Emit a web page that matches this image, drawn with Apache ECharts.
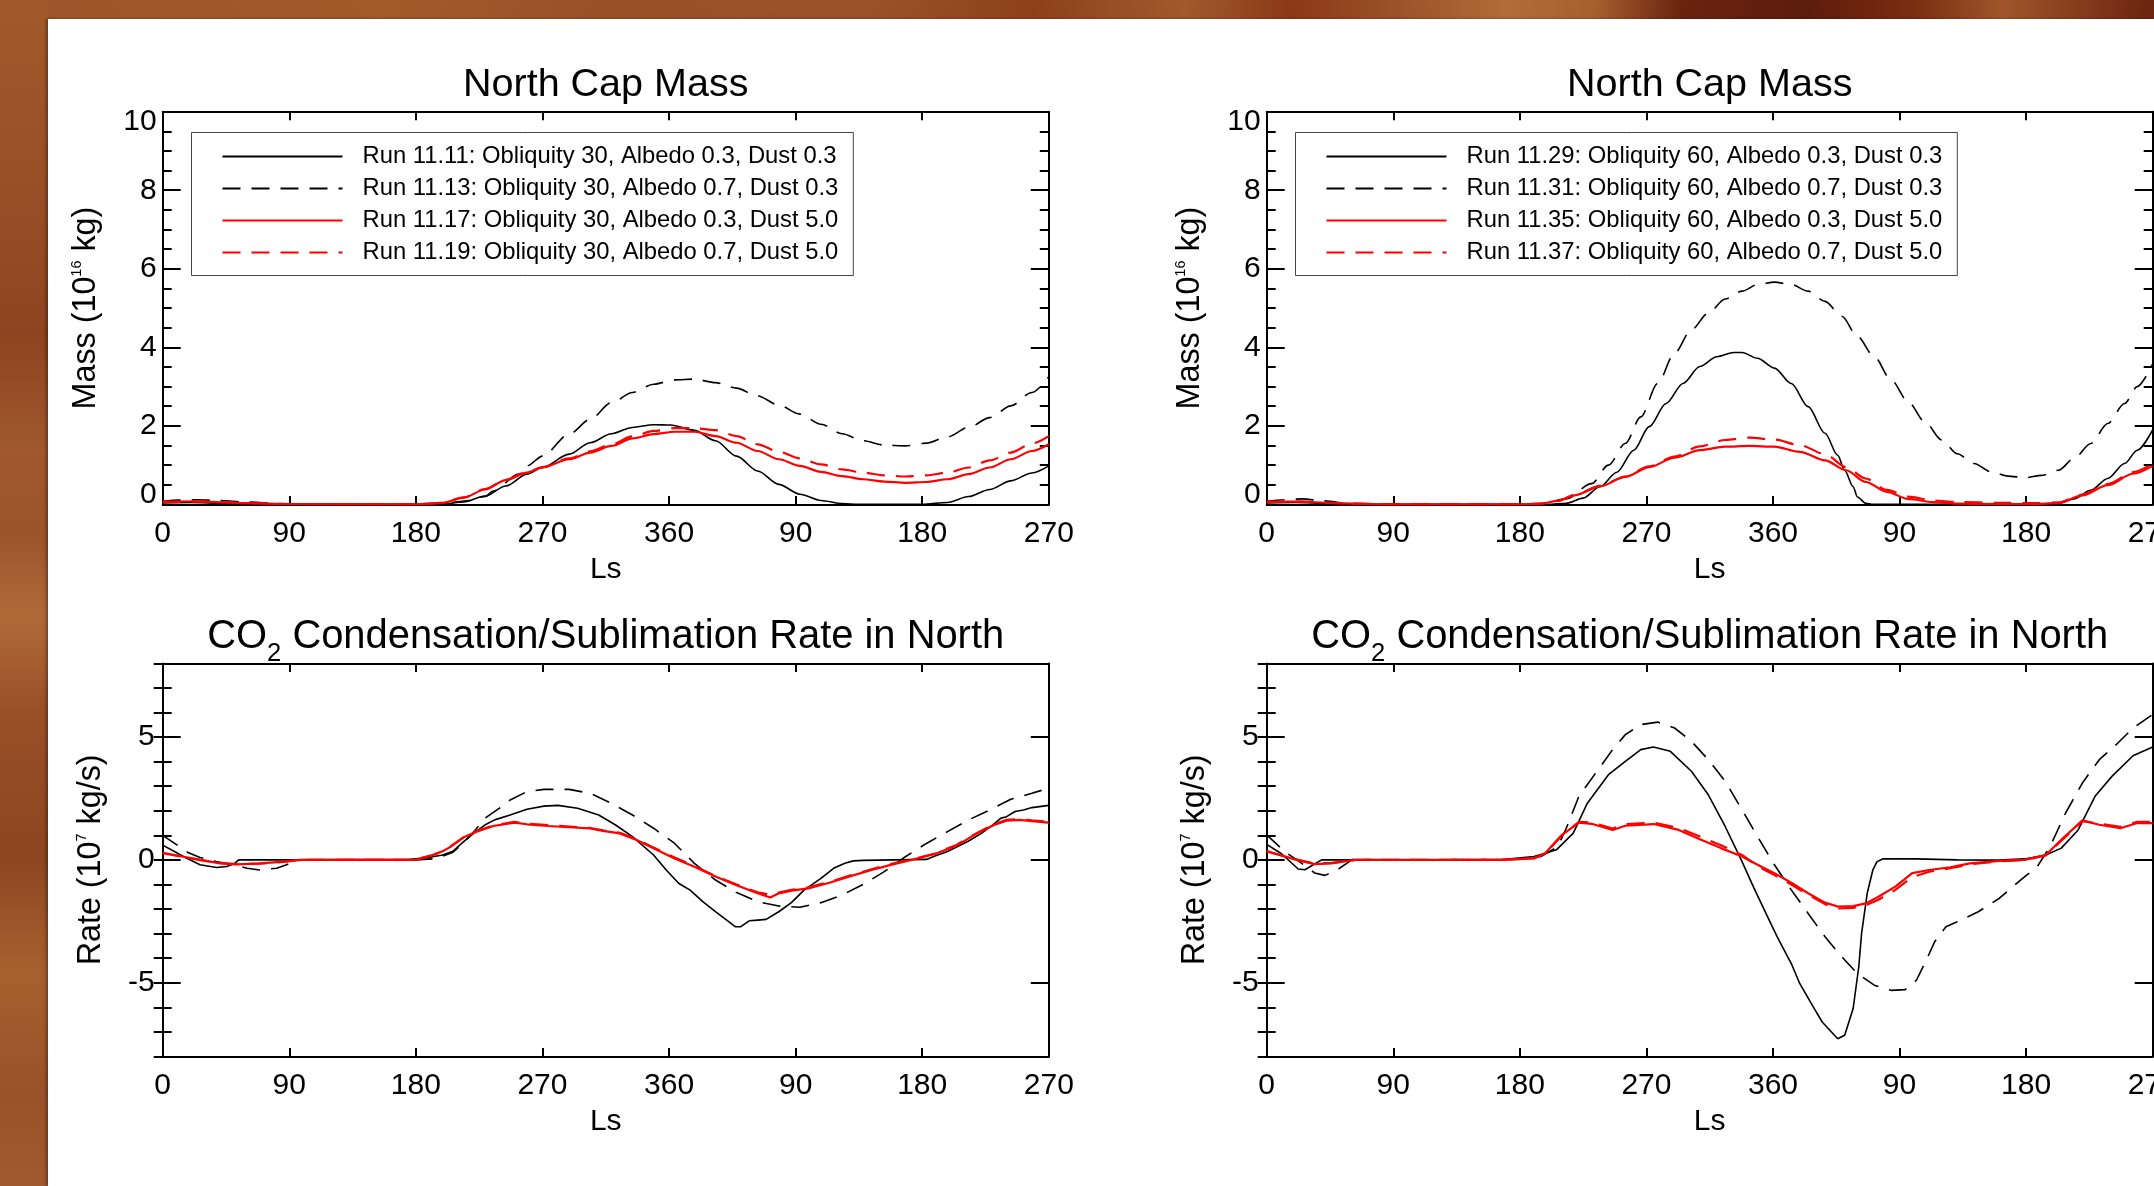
<!DOCTYPE html>
<html><head><meta charset="utf-8">
<script src="https://cdn.jsdelivr.net/npm/echarts@6/dist/echarts.min.js"></script>
<style>
html,body{margin:0;padding:0;width:2154px;height:1186px;overflow:hidden;background:#9c5327;}
#bgTop{position:absolute;left:0;top:0;width:2154px;height:19px;
 background:linear-gradient(90deg,#9d5428 0%,#a35b2c 18%,#9a5026 28%,#9c5228 40%,#8e4119 48%,#a2592b 55%,#8a3a16 60%,#b06c3a 70%,#a6602f 74%,#6a2410 78%,#5e1c0b 84%,#7c2e12 89%,#a0562a 93%,#6a2410 100%);}
#bgLeft{position:absolute;left:0;top:0;width:48px;height:1186px;
 background:linear-gradient(180deg,#a2592b 0%,#9a5026 15%,#8e4420 28%,#a0582c 38%,#9c5429 45%,#b06a3a 52%,#9a5026 60%,#8c4620 72%,#a6602f 82%,#9a5228 92%,#a05a2e 100%);}
#panel{position:absolute;left:48px;top:19px;width:2106px;height:1167px;background:#fff;box-shadow:-2px 0 3px rgba(0,0,0,0.35);}
#chart{position:absolute;left:0;top:0;width:2154px;height:1186px;}
</style></head>
<body>
<div id="bgTop"></div><div id="bgLeft"></div><div id="panel"></div><div id="chart"></div>
<script>
// ---------- tick labels ----------
const lsTickLabels = ['0', '90', '180', '270', '360', '90', '180', '270'];
const massTicks = [0, 2, 4, 6, 8, 10];
const rateTicks = [-5, 0, 5];

// ---------- legend / series names ----------
const namesObl30 = [
  'Run 11.11: Obliquity 30, Albedo 0.3, Dust 0.3',
  'Run 11.13: Obliquity 30, Albedo 0.7, Dust 0.3',
  'Run 11.17: Obliquity 30, Albedo 0.3, Dust 5.0',
  'Run 11.19: Obliquity 30, Albedo 0.7, Dust 5.0'
];
const namesObl60 = [
  'Run 11.29: Obliquity 60, Albedo 0.3, Dust 0.3',
  'Run 11.31: Obliquity 60, Albedo 0.7, Dust 0.3',
  'Run 11.35: Obliquity 60, Albedo 0.3, Dust 5.0',
  'Run 11.37: Obliquity 60, Albedo 0.7, Dust 5.0'
];

// ---------- North cap mass, obliquity 30 (10^16 kg) ----------
const massLs1111 = [0, 20, 45, 60, 90, 180, 199, 214, 229, 244, 259, 270, 289, 304, 319, 334, 349, 361, 378, 393, 408, 423, 438, 453, 468, 483, 495, 540, 558, 573, 588, 603, 618, 630];
const mass1111 = [0.04, 0.05, 0.03, 0.01, 0, 0, 0.01, 0.06, 0.21, 0.47, 0.77, 0.94, 1.28, 1.57, 1.80, 1.96, 2.03, 2.02, 1.89, 1.62, 1.23, 0.85, 0.51, 0.26, 0.10, 0.02, 0, 0, 0.05, 0.2, 0.38, 0.6, 0.8, 0.98];
const massLs1113 = [0, 12, 25, 40, 60, 90, 180, 199, 218, 229, 235, 253, 259, 270, 289, 304, 319, 334, 349, 364, 378, 393, 408, 423, 438, 453, 468, 483, 498, 513, 528, 543, 558, 573, 588, 603, 618, 630];
const mass1113 = [0.08, 0.11, 0.12, 0.1, 0.06, 0, 0, 0.02, 0.1, 0.2, 0.34, 0.77, 0.98, 1.23, 1.79, 2.17, 2.59, 2.85, 3.06, 3.17, 3.19, 3.10, 2.96, 2.76, 2.53, 2.30, 2.04, 1.80, 1.62, 1.51, 1.49, 1.56, 1.72, 1.96, 2.21, 2.51, 2.85, 3.25];
const massLs1117 = [0, 25, 45, 60, 90, 180, 199, 214, 229, 244, 259, 270, 289, 304, 319, 334, 349, 364, 378, 393, 408, 423, 438, 453, 468, 483, 498, 513, 528, 543, 558, 573, 588, 603, 618, 630];
const mass1117 = [0.07, 0.08, 0.05, 0.03, 0.01, 0, 0.04, 0.17, 0.38, 0.62, 0.81, 0.94, 1.15, 1.32, 1.49, 1.68, 1.79, 1.85, 1.85, 1.74, 1.57, 1.36, 1.15, 0.98, 0.83, 0.72, 0.64, 0.58, 0.55, 0.57, 0.64, 0.77, 0.94, 1.15, 1.36, 1.53];
const massLs1119 = massLs1117;
const mass1119 = [0.06, 0.07, 0.05, 0.03, 0.01, 0, 0.04, 0.18, 0.39, 0.63, 0.82, 0.95, 1.17, 1.35, 1.53, 1.73, 1.87, 1.94, 1.94, 1.89, 1.74, 1.53, 1.34, 1.17, 1.02, 0.89, 0.81, 0.74, 0.71, 0.74, 0.81, 0.94, 1.12, 1.32, 1.55, 1.74];

// ---------- North cap mass, obliquity 60 (10^16 kg) ----------
const massLs1129 = [0, 20, 45, 60, 90, 180, 200, 213, 225, 237, 249, 261, 272, 284, 296, 308, 320, 332, 338, 349, 361, 373, 385, 397, 406, 411, 417, 420, 426, 431, 540, 551, 563, 574, 586, 598, 610, 619, 630];
const mass1129 = [0.04, 0.05, 0.03, 0.01, 0, 0, 0, 0.03, 0.16, 0.45, 0.82, 1.38, 1.98, 2.57, 3.08, 3.51, 3.76, 3.87, 3.87, 3.72, 3.47, 3.08, 2.49, 1.81, 1.25, 0.87, 0.45, 0.19, 0.03, 0, 0, 0.01, 0.03, 0.14, 0.36, 0.66, 1.04, 1.38, 1.9];
const massLs1131 = [0, 12, 25, 40, 60, 90, 180, 195, 213, 231, 243, 255, 266, 278, 290, 302, 314, 326, 338, 349, 361, 373, 385, 397, 409, 420, 432, 444, 456, 468, 480, 491, 503, 515, 527, 539, 551, 563, 574, 586, 598, 610, 619, 630];
const mass1131 = [0.08, 0.12, 0.14, 0.09, 0.02, 0, 0, 0.01, 0.14, 0.53, 1.0, 1.55, 2.23, 3.08, 3.85, 4.45, 4.87, 5.23, 5.43, 5.60, 5.66, 5.60, 5.43, 5.17, 4.79, 4.28, 3.76, 3.17, 2.62, 2.10, 1.64, 1.29, 1.04, 0.83, 0.72, 0.68, 0.74, 0.87, 1.17, 1.55, 2.06, 2.57, 3.0, 3.58];
const massLs1135 = [0, 25, 45, 60, 90, 180, 195, 207, 219, 237, 255, 272, 290, 308, 326, 343, 361, 379, 397, 412, 426, 441, 456, 474, 491, 520, 545, 563, 580, 598, 616, 630];
const mass1135 = [0.07, 0.07, 0.04, 0.02, 0, 0, 0.02, 0.09, 0.23, 0.46, 0.70, 0.95, 1.19, 1.38, 1.47, 1.49, 1.47, 1.34, 1.12, 0.87, 0.57, 0.32, 0.14, 0.06, 0.02, 0.01, 0.01, 0.03, 0.23, 0.49, 0.78, 0.98];
const massLs1137 = massLs1135;
const mass1137 = [0.06, 0.07, 0.04, 0.02, 0, 0, 0.02, 0.09, 0.24, 0.47, 0.71, 0.97, 1.22, 1.48, 1.64, 1.70, 1.65, 1.51, 1.28, 0.95, 0.66, 0.37, 0.20, 0.10, 0.06, 0.04, 0.03, 0.05, 0.25, 0.52, 0.82, 1.04];

// ---------- CO2 rate, obliquity 30 (10^7 kg/s) ----------
const rateLs1111 = [0, 8, 15, 26.5, 38.4, 45.5, 51, 54, 90, 176, 188, 199, 206, 214, 221, 229, 236, 247, 259, 271, 281, 295, 310, 322, 334, 349, 358, 367, 375, 384, 393, 401, 407, 411, 417, 423, 429, 438, 447, 456, 468, 477, 485, 491, 498, 543, 549, 558, 573, 582, 590, 596, 600, 606, 612, 618, 630];
const rate1111 = [0.6, 0.35, 0.13, -0.2, -0.31, -0.27, -0.15, 0, 0, 0.02, 0.09, 0.2, 0.34, 0.74, 1.08, 1.42, 1.63, 1.83, 2.06, 2.19, 2.22, 2.10, 1.83, 1.42, 0.95, 0.20, -0.41, -0.96, -1.23, -1.70, -2.11, -2.45, -2.72, -2.72, -2.48, -2.45, -2.42, -2.11, -1.74, -1.23, -0.75, -0.34, -0.14, -0.04, -0.02, 0.02, 0.16, 0.34, 0.77, 1.08, 1.42, 1.70, 1.76, 1.97, 2.03, 2.13, 2.22];
const rateLs1113 = [0, 9, 18, 26.5, 38, 50, 60, 69, 81, 88, 95, 100, 180, 194, 206, 214, 222, 229, 241, 247, 259, 271, 289, 304, 319, 334, 349, 364, 378, 393, 408, 423, 438, 453, 468, 483, 498, 513, 528, 543, 558, 573, 588, 603, 618, 630];
const rate1113 = [1.0, 0.65, 0.3, 0.1, -0.07, -0.2, -0.34, -0.41, -0.34, -0.2, -0.03, 0, 0, 0.05, 0.3, 0.7, 1.2, 1.69, 2.17, 2.44, 2.78, 2.87, 2.87, 2.71, 2.30, 1.83, 1.29, 0.67, -0.14, -0.82, -1.33, -1.70, -1.88, -1.93, -1.74, -1.43, -1.00, -0.48, 0.13, 0.67, 1.15, 1.63, 2.03, 2.47, 2.71, 2.92];
const rateLs1117 = [0, 15, 26.5, 41, 53, 69, 86, 98, 180, 184, 192, 199, 204, 214, 223, 235, 250, 259, 274, 289, 304, 313, 325, 337, 349, 364, 378, 393, 408, 423, 432, 438, 447, 459, 474, 489, 504, 519, 534, 549, 564, 579, 591, 600, 609, 618, 630];
const rate1117 = [0.29, 0.13, 0, -0.14, -0.18, -0.14, -0.07, 0, 0, 0.08, 0.2, 0.35, 0.51, 0.92, 1.15, 1.38, 1.52, 1.45, 1.38, 1.33, 1.28, 1.18, 1.08, 0.81, 0.47, 0.06, -0.28, -0.68, -1.03, -1.36, -1.53, -1.36, -1.25, -1.16, -0.93, -0.66, -0.41, -0.18, 0.02, 0.24, 0.57, 1.08, 1.42, 1.60, 1.63, 1.58, 1.52];
const rateLs1119 = rateLs1117;
const rate1119 = [0.27, 0.12, 0, -0.13, -0.17, -0.15, -0.08, 0, 0, 0.07, 0.19, 0.36, 0.52, 0.93, 1.16, 1.40, 1.55, 1.48, 1.42, 1.36, 1.30, 1.20, 1.10, 0.85, 0.50, 0.10, -0.25, -0.66, -1.00, -1.32, -1.42, -1.33, -1.22, -1.12, -0.90, -0.63, -0.38, -0.15, 0.04, 0.26, 0.60, 1.10, 1.45, 1.63, 1.66, 1.61, 1.55];

// ---------- CO2 rate, obliquity 60 (10^7 kg/s) ----------
const rateLs1129 = [0, 10.5, 22.4, 27.2, 39, 90, 166, 190, 198, 206, 218, 228, 243, 255, 266, 275, 287, 302, 314, 326, 338, 346, 355, 363, 373, 379, 388, 395, 406, 411, 417, 421, 423, 427, 431, 434, 438, 462, 491, 521, 539, 554, 565, 577, 589, 601, 616, 630];
const rate1129 = [0.63, 0.25, -0.37, -0.40, 0, 0, 0, 0.14, 0.27, 0.41, 1.09, 2.31, 3.47, 4.01, 4.49, 4.60, 4.42, 3.61, 2.65, 1.36, -0.07, -1.09, -2.18, -3.13, -4.22, -5.03, -5.92, -6.60, -7.28, -7.14, -6.05, -4.35, -2.99, -1.36, -0.41, -0.07, 0.04, 0.04, 0, -0.01, 0.04, 0.2, 0.48, 1.22, 2.59, 3.40, 4.24, 4.6];
const rateLs1131 = [0, 13, 25, 34, 41.5, 49, 61, 90, 180, 195, 207, 213, 222, 234, 246, 255, 266, 278, 290, 302, 314, 326, 338, 349, 361, 373, 385, 397, 409, 420, 432, 444, 454, 462, 469, 475, 483, 491, 506, 521, 536, 548, 557, 568, 580, 592, 604, 616, 630];
const rate1131 = [1.02, 0.33, -0.14, -0.53, -0.63, -0.45, 0.02, 0, 0.02, 0.14, 0.54, 1.29, 2.59, 3.54, 4.49, 5.10, 5.51, 5.61, 5.37, 4.83, 4.08, 3.20, 2.04, 0.95, -0.20, -1.22, -2.18, -3.13, -3.95, -4.63, -5.10, -5.31, -5.28, -4.90, -4.08, -3.33, -2.72, -2.52, -2.11, -1.56, -0.82, -0.27, 0.54, 1.90, 3.13, 4.08, 4.69, 5.37, 5.92];
const rateLs1135 = [0, 20, 34, 46, 63, 90, 166, 190, 198, 210, 222, 231, 246, 255, 275, 293, 308, 323, 338, 349, 361, 373, 385, 397, 406, 417, 426, 435, 447, 459, 471, 486, 500, 521, 539, 554, 565, 580, 592, 607, 619, 630];
const rate1135 = [0.36, 0.02, -0.17, -0.14, 0, 0, 0, 0.07, 0.27, 1.02, 1.52, 1.47, 1.22, 1.39, 1.46, 1.22, 0.84, 0.48, 0.14, -0.20, -0.54, -0.93, -1.36, -1.74, -1.90, -1.88, -1.77, -1.50, -1.09, -0.54, -0.41, -0.30, -0.14, -0.04, 0, 0.2, 0.82, 1.61, 1.43, 1.29, 1.50, 1.50];
const rateLs1137 = rateLs1135;
const rate1137 = [0.34, 0.03, -0.15, -0.12, 0, 0, 0, 0.06, 0.25, 1.0, 1.55, 1.52, 1.28, 1.45, 1.52, 1.30, 0.95, 0.60, 0.20, -0.25, -0.62, -1.00, -1.42, -1.80, -1.98, -1.95, -1.85, -1.62, -1.22, -0.70, -0.48, -0.34, -0.18, -0.06, 0, 0.18, 0.78, 1.58, 1.47, 1.35, 1.55, 1.55];

// ---------- build ----------
const FONT = "'Liberation Sans', Arial, Helvetica, sans-serif";
const BLACK = '#000000', RED = '#ff0000';
const DASH = [18, 11];
const pairs = (xs, ys) => xs.map((x, i) => [x, ys[i]]);

const grids = [
  { left: 162.7, top: 111.7, width: 886.1, height: 392.7 },
  { left: 1266.7, top: 111.7, width: 886, height: 392.7 },
  { left: 162.7, top: 663.4, width: 886.1, height: 393 },
  { left: 1266.7, top: 663.4, width: 886, height: 393 }
];
const centers = [605.7, 1709.7];

const xAxes = [], yAxes = [];
const lineAx = { show: true, onZero: false, lineStyle: { color: BLACK, width: 2 } };
grids.forEach((g, gi) => {
  xAxes.push({
    type: 'value', gridIndex: gi, position: 'bottom', min: 0, max: 630, interval: 90,
    axisLine: lineAx, splitLine: { show: false },
    axisTick: { show: true, inside: true, length: 8.5, lineStyle: { color: BLACK, width: 2 } },
    axisLabel: { show: true, margin: 14, color: BLACK, fontFamily: FONT, fontSize: 30,
      formatter: v => lsTickLabels[Math.round(v / 90)] },
    name: 'Ls', nameLocation: 'middle', nameGap: 50,
    nameTextStyle: { color: BLACK, fontFamily: FONT, fontSize: 30 }
  });
  xAxes.push({
    type: 'value', gridIndex: gi, position: 'top', min: 0, max: 630, interval: 90,
    axisLine: lineAx, splitLine: { show: false },
    axisTick: { show: true, inside: true, length: 8.5, lineStyle: { color: BLACK, width: 2 } },
    axisLabel: { show: false }
  });
});

const massRich = {
  n: { fontFamily: FONT, fontSize: 30, color: BLACK },
  lo: { fontFamily: FONT, fontSize: 30, color: BLACK, padding: [0, 0, 20, 0] },
  hi: { fontFamily: FONT, fontSize: 30, color: BLACK, padding: [20, 0, 0, 0] }
};
const nameRich = {
  a: { fontFamily: FONT, fontSize: 32.3, color: BLACK, lineHeight: 32 },
  s: { fontFamily: FONT, fontSize: 14.5, color: BLACK, lineHeight: 14, verticalAlign: 'top' }
};

// y axes: mass plots (grid 0,1) and rate plots (grid 2,3)
const yIdx = {};
[0, 1].forEach(gi => {
  yIdx[gi] = yAxes.length;
  ['left', 'right'].forEach(pos => {
    yAxes.push({
      type: 'value', gridIndex: gi, position: pos, min: massTicks[0], max: massTicks[massTicks.length - 1], interval: 2,
      axisLine: lineAx, splitLine: { show: false },
      axisTick: { show: true, inside: true, length: 18, lineStyle: { color: BLACK, width: 2 } },
      minorTick: { show: true, splitNumber: 4, length: 9, lineStyle: { color: BLACK, width: 2 } },
      axisLabel: pos === 'left' ? {
        show: true, margin: 6, color: BLACK, fontFamily: FONT, fontSize: 30,
        formatter: v => v === massTicks[0] ? '{lo|' + v + '}' : (v === massTicks[massTicks.length - 1] ? '{hi|' + v + '}' : '{n|' + v + '}'),
        rich: massRich
      } : { show: false },
      name: pos === 'left' ? '{a|Mass (10}{s|16}{a| kg)}' : '',
      nameLocation: 'middle', nameGap: 61,
      nameTextStyle: { fontFamily: FONT, fontSize: 32.3, color: BLACK, rich: nameRich }
    });
  });
});
[2, 3].forEach(gi => {
  yIdx[gi] = yAxes.length;
  ['left', 'right'].forEach(pos => {
    yAxes.push({
      type: 'value', gridIndex: gi, position: pos, min: -8, max: 8, interval: 1,
      axisLine: lineAx, splitLine: { show: false },
      axisTick: { show: true, inside: true, length: 18, customValues: rateTicks, lineStyle: { color: BLACK, width: 2 } },
      axisLabel: pos === 'left' ? {
        show: true, margin: 8, color: BLACK, fontFamily: FONT, fontSize: 30, customValues: rateTicks
      } : { show: false },
      name: pos === 'left' ? '{a|Rate (10}{s|7}{a| kg/s)}' : '',
      nameLocation: 'middle', nameGap: 56,
      nameTextStyle: { fontFamily: FONT, fontSize: 32.3, color: BLACK, rich: nameRich }
    });
    yAxes.push({
      type: 'value', gridIndex: gi, position: pos, min: -8, max: 8, interval: 1,
      axisLine: { show: false }, splitLine: { show: false },
      axisTick: { show: true, inside: true, length: 9, lineStyle: { color: BLACK, width: 2 } },
      axisLabel: { show: false }
    });
  });
});

function mk(name, gi, xs, ys, color, dashed, smooth) {
  return {
    type: 'line', name: name, xAxisIndex: gi * 2, yAxisIndex: yIdx[gi],
    data: pairs(xs, ys), symbol: 'none', showSymbol: false,
    smooth: smooth ? 0.3 : false, smoothMonotone: smooth ? 'x' : undefined,
    lineStyle: { color: color, width: color === RED ? 2.2 : 1.6, type: dashed ? DASH : 'solid' },
    itemStyle: { color: color },
    emphasis: { disabled: true }, silent: true
  };
}

const series = [
  mk(namesObl30[0], 0, massLs1111, mass1111, BLACK, false, true),
  mk(namesObl30[1], 0, massLs1113, mass1113, BLACK, true, true),
  mk(namesObl30[2], 0, massLs1117, mass1117, RED, false, true),
  mk(namesObl30[3], 0, massLs1119, mass1119, RED, true, true),
  mk(namesObl60[0], 1, massLs1129, mass1129, BLACK, false, true),
  mk(namesObl60[1], 1, massLs1131, mass1131, BLACK, true, true),
  mk(namesObl60[2], 1, massLs1135, mass1135, RED, false, true),
  mk(namesObl60[3], 1, massLs1137, mass1137, RED, true, true),
  mk(namesObl30[0] + ' ', 2, rateLs1111, rate1111, BLACK, false, false),
  mk(namesObl30[1] + ' ', 2, rateLs1113, rate1113, BLACK, true, false),
  mk(namesObl30[2] + ' ', 2, rateLs1117, rate1117, RED, false, false),
  mk(namesObl30[3] + ' ', 2, rateLs1119, rate1119, RED, true, false),
  mk(namesObl60[0] + ' ', 3, rateLs1129, rate1129, BLACK, false, false),
  mk(namesObl60[1] + ' ', 3, rateLs1131, rate1131, BLACK, true, false),
  mk(namesObl60[2] + ' ', 3, rateLs1135, rate1135, RED, false, false),
  mk(namesObl60[3] + ' ', 3, rateLs1137, rate1137, RED, true, false)
];

function legendAt(left, names) {
  return {
    data: names, left: left, top: 132.5, orient: 'vertical',
    itemWidth: 120, itemHeight: 14, itemGap: 8,
    padding: [12, 15, 11, 30], backgroundColor: '#ffffff',
    borderColor: '#444444', borderWidth: 1, borderRadius: 0,
    selectedMode: false,
    itemStyle: { opacity: 0, borderWidth: 0 },
    textStyle: { fontFamily: FONT, fontSize: 23.8, color: BLACK, lineHeight: 24, padding: [0, 0, 0, 15] }
  };
}

const titleStyle = { fontFamily: FONT, fontSize: 39.5, fontWeight: 'normal', color: BLACK, lineHeight: 40 };
const co2Rich = {
  a: { fontFamily: FONT, fontSize: 39.9, color: BLACK, lineHeight: 40, verticalAlign: 'top' },
  b: { fontFamily: FONT, fontSize: 25.6, color: BLACK, lineHeight: 25, verticalAlign: 'top', padding: [24, 0, 0, 0] }
};
const titles = [];
centers.forEach(cx => {
  titles.push({ text: 'North Cap Mass', left: cx, top: 65, textAlign: 'center', padding: 0, textStyle: titleStyle });
  titles.push({ text: '{a|CO}{b|2}{a| Condensation/Sublimation Rate in North}', left: cx, top: 617, textAlign: 'center', padding: 0,
    textStyle: Object.assign({}, titleStyle, { rich: co2Rich }) });
});

const chart = echarts.init(document.getElementById('chart'), null, { renderer: 'canvas' });
chart.setOption({
  animation: false,
  backgroundColor: 'transparent',
  title: titles,
  legend: [legendAt(191.5, namesObl30), legendAt(1295.5, namesObl60)],
  grid: grids.map(g => Object.assign({ containLabel: false, outerBoundsMode: 'none' }, g)),
  xAxis: xAxes,
  yAxis: yAxes,
  series: series
});
</script>
</body></html>
